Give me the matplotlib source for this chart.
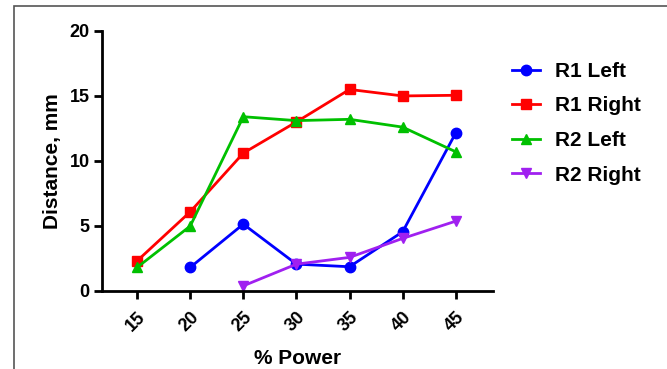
import matplotlib
matplotlib.use("Agg")
import matplotlib.pyplot as plt
from matplotlib.patches import Rectangle
import numpy as np

plt.rcParams['font.family'] = ['Liberation Sans', 'DejaVu Sans']
plt.rcParams['font.weight'] = 'bold'

power = [15, 20, 25, 30, 35, 40, 45]
r1_left = [np.nan, 1.8, 5.13, 2.05, 1.85, 4.54, 12.15]
r1_right = [2.3, 6.08, 10.6, 13.0, 15.5, 15.0, 15.05]
r2_left = [1.8, 4.98, 13.4, 13.1, 13.2, 12.6, 10.7]
r2_right = [np.nan, np.nan, 0.38, 2.05, 2.57, 4.03, 5.36]

series = [
    ("R1 Left", r1_left, "#0000FF", "o"),
    ("R1 Right", r1_right, "#FF0000", "s"),
    ("R2 Left", r2_left, "#00C000", "^"),
    ("R2 Right", r2_right, "#A020F0", "v"),
]

fig = plt.figure(figsize=(6.67, 3.69), dpi=100)
ax = fig.add_axes([0.153, 0.212, 0.586, 0.704])

for name, vals, col, mk in series:
    ax.plot(power, vals, color=col, marker=mk, lw=2, ms=7.5, label=name)

ax.set_xlim(11.7, 48.5)
ax.set_ylim(0, 20)
ax.set_xticks(power)
ax.set_xticklabels([str(p) for p in power], rotation=45, ha='right', rotation_mode='anchor',
                   fontsize=13, fontweight='bold')
ax.set_yticks([0, 5, 10, 15, 20])
ax.set_yticklabels(['0', '5', '10', '15', '20'], fontsize=13, fontweight='bold')
for s in ['top', 'right']:
    ax.spines[s].set_visible(False)
for s in ['left', 'bottom']:
    ax.spines[s].set_linewidth(2)
ax.tick_params(width=2, length=6)
ax.tick_params(axis='y', pad=3)
ax.tick_params(axis='x', pad=7)
ax.set_xlabel('% Power', fontsize=15, fontweight='bold', labelpad=10)
ax.set_ylabel('Distance, mm', fontsize=15, fontweight='bold', labelpad=5)

leg = ax.legend(loc='upper left', bbox_to_anchor=(0.755, 0.855), bbox_transform=fig.transFigure,
                frameon=False, fontsize=15, handlelength=1.35, handletextpad=0.7,
                labelspacing=0.75, borderaxespad=0)
for t in leg.get_texts():
    t.set_fontweight('bold')

fig.patches.append(Rectangle((14/667, -0.1), 1.1, 1 - 6/369 + 0.1, transform=fig.transFigure,
                             fill=False, edgecolor='#555555', lw=1.2))

fig.savefig('out.png', dpi=100)
